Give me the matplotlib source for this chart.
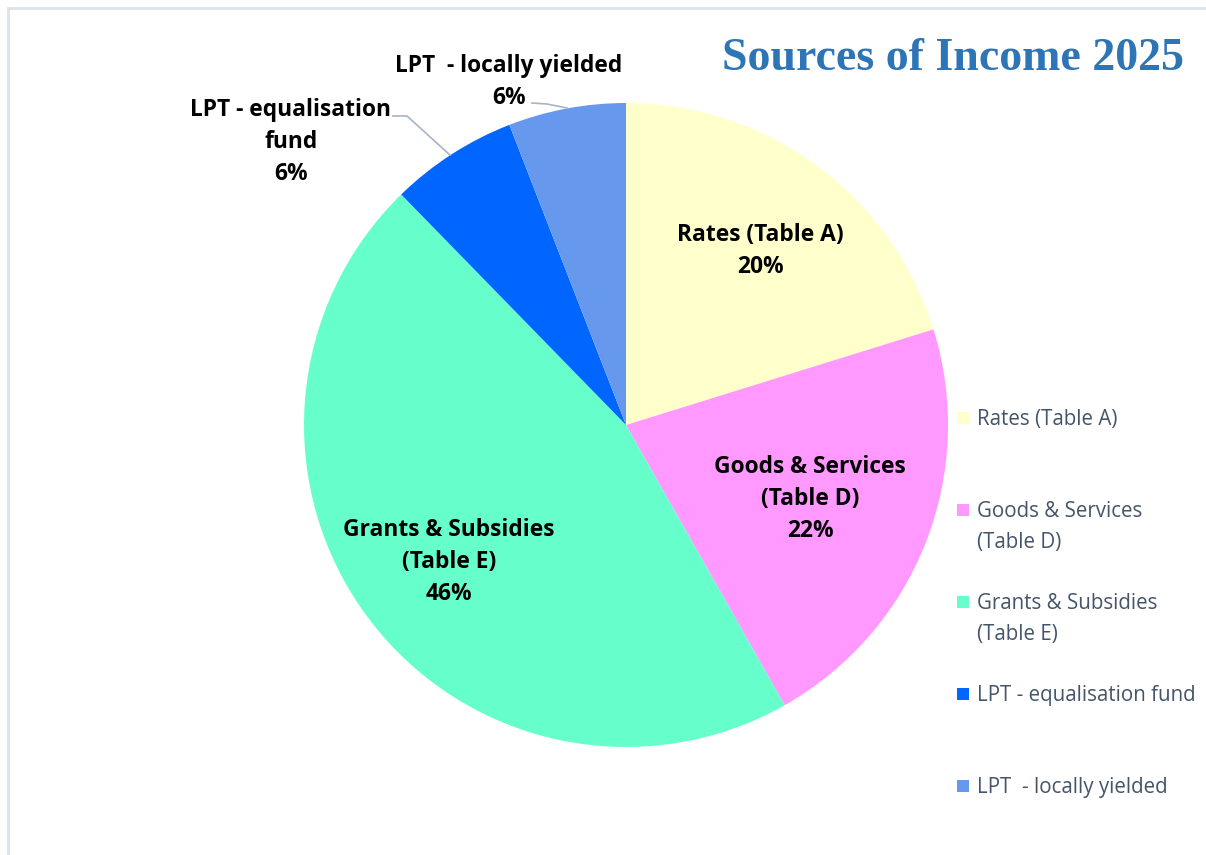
import matplotlib
matplotlib.use("Agg")
import matplotlib.pyplot as plt
from matplotlib.patches import Rectangle
from matplotlib.lines import Line2D

# ---- data ----
categories = ["Rates (Table A)", "Goods & Services (Table D)", "Grants & Subsidies (Table E)",
              "LPT - equalisation fund", "LPT  - locally yielded"]
values = [20.2, 21.6, 45.9, 6.4, 5.9]
label_names = ["Rates (Table A)", "Goods & Services\n(Table D)", "Grants & Subsidies\n(Table E)",
               "LPT - equalisation\nfund", "LPT  - locally yielded"]
legend_names = ["Rates (Table A)", "Goods & Services\n(Table D)", "Grants & Subsidies\n(Table E)",
                "LPT - equalisation fund", "LPT  - locally yielded"]
colors = ["#FFFFCC", "#FF99FF", "#66FFCC", "#0066FF", "#6699EE"]
title = "Sources of Income 2025"

W, H = 1206, 855
fig = plt.figure(figsize=(W / 100, H / 100), dpi=100)
fig.patch.set_facecolor("white")
ax = fig.add_axes([0, 0, 1, 1])

cx, cy, r = 626, H - 425, 322
wedges, _ = ax.pie(values, colors=colors, startangle=90, counterclock=False,
                   center=(cx, cy), radius=r, frame=True,
                   wedgeprops=dict(linewidth=0))
ax.set_xlim(0, W)
ax.set_ylim(0, H)
ax.set_aspect("equal")
ax.axis("off")

# border
border = "#DDE3EA"
ax.add_line(Line2D([8, W], [H - 8, H - 8], color=border, lw=2))
ax.add_line(Line2D([8, 8], [0, H - 8], color=border, lw=2))

# title
ax.text(953, H - 70, title, ha="center", va="baseline", fontsize=33, fontweight="bold",
        color="#2E75B6", family=["Liberation Serif", "DejaVu Serif"])

lab_font = dict(family=["Open Sans", "DejaVu Sans"], fontweight="bold", fontsize=16.4, color="black",
                ha="center", va="center", linespacing=1.45)
pos = [(760, 251), (810, 499), (449, 562), (291, 142), (509, 82)]
total = sum(values)
for (x, y), name, v in zip(pos, label_names, values):
    ax.text(x, H - y, f"{name}\n{v / total * 100:.0f}%", **lab_font)

# leader lines
lc = "#A6B4C6"
ax.add_line(Line2D([393, 407, 450], [H - 116, H - 116, H - 155], color=lc, lw=1.2))
ax.add_line(Line2D([532, 547, 567], [H - 103, H - 104, H - 108], color=lc, lw=1.2))

# legend
leg_y = [418, 510, 602, 694, 786]
for y, name, c in zip(leg_y, legend_names, colors):
    ax.add_patch(Rectangle((957, H - y - 6), 12, 12, facecolor=c, edgecolor="none"))
    ax.text(977, H - y - 7, name.split("\n")[0], ha="left", va="baseline", fontsize=14.8,
            color="#44546A", family=["Open Sans", "DejaVu Sans"])
    if "\n" in name:
        ax.text(977, H - y - 7 - 31, name.split("\n")[1], ha="left", va="baseline", fontsize=14.8,
                color="#44546A", family=["Open Sans", "DejaVu Sans"])

fig.savefig("out.png", dpi=100)
